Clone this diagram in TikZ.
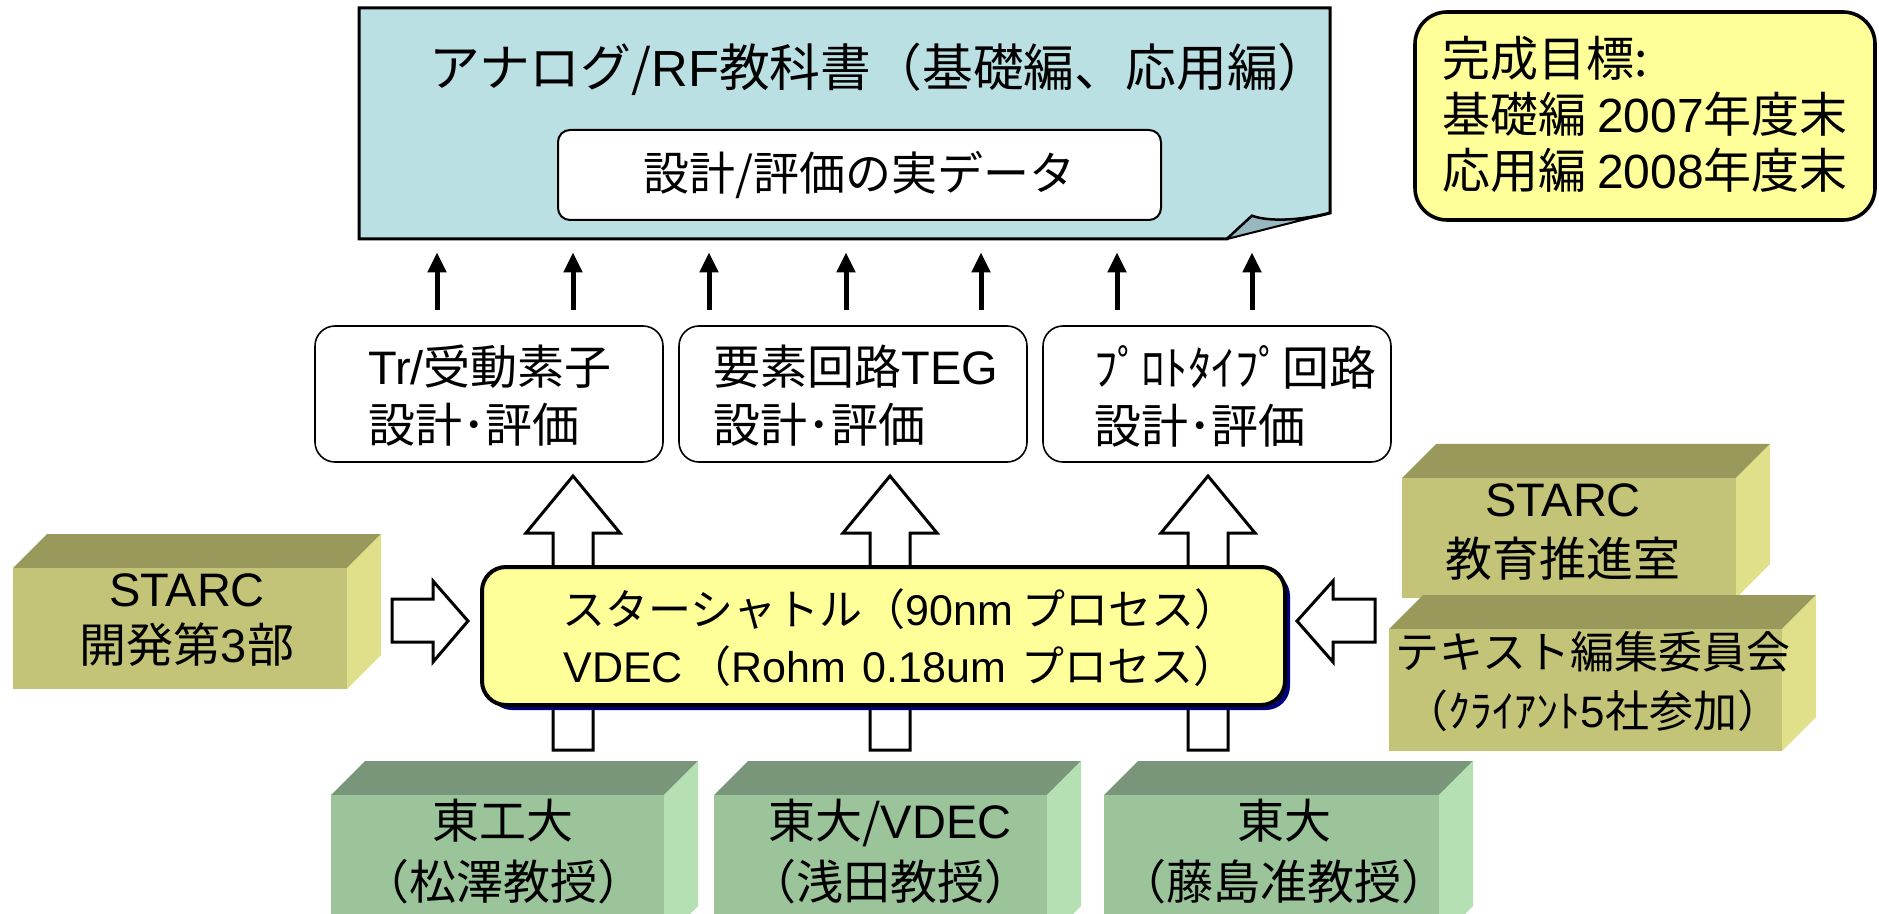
\documentclass[tikz,border=0pt]{standalone}
\usepackage{fontspec}
\setmainfont{Noto Sans CJK JP}
\newfontfamily\lat{Liberation Sans}
\newcommand{\la}[1]{{\lat #1}}
\usetikzlibrary{arrows.meta,fit}

\definecolor{docfill}{RGB}{187,224,228}
\definecolor{docflap}{RGB}{150,184,190}
\definecolor{paleyellow}{RGB}{255,255,153}
\definecolor{navyshadow}{RGB}{0,0,128}
\definecolor{olivefront}{RGB}{196,196,120}
\definecolor{olivetop}{RGB}{153,153,92}
\definecolor{oliveside}{RGB}{224,224,138}
\definecolor{greenfront}{RGB}{155,196,155}
\definecolor{greentop}{RGB}{122,150,122}
\definecolor{greenside}{RGB}{180,224,180}

\tikzset{
  txt/.style={inner sep=0pt, align=center, font=\fontsize{23.5}{29}\selectfont},
  rbox/.style={draw, line width=0.8pt, rounded corners=10pt, fill=white, inner sep=0pt},
  outarrow/.style={draw, fill=white, line width=1.5pt, line join=miter},
  smallarr/.style={line width=2.5pt, -{Triangle[width=9pt,length=10pt]}},
}

\newcommand{\cuboid}[6]{%
  \fill[#5top] (#1,#2) -- ({#1+34},{#2-34}) -- ({#3+34},{#2-34}) -- (#3,#2) -- cycle;
  \fill[#5side] (#3,#2) -- ({#3+34},{#2-34}) -- ({#3+34},{#4-34}) -- (#3,#4) -- cycle;
  \node[fill=#5front, inner sep=0pt, fit={(#1,#2) (#3,#4)}] (#6) {};
}

\begin{document}
\begin{tikzpicture}[x=0.5pt,y=-0.5pt]
\clip (0,0) rectangle (1879,914);
\fill[white] (0,0) rectangle (1879,914);

% document shape
\draw[fill=docfill, line width=1.5pt, line join=miter] (359,8) -- (1330,8) -- (1330,213)
  .. controls (1300,221) and (1268,222) .. (1252,216) -- (1227,239) -- (359,239) -- cycle;
\draw[fill=docflap, line width=1pt, line join=round] (1227,239) -- (1252,216)
  .. controls (1268,222) and (1300,221) .. (1330,213) -- cycle;
\node[fit={(359,8) (1330,239)}, inner sep=0pt] (doc) {};
\node[txt, font=\fontsize{25.4}{29}\selectfont] (title) at (879,69) {アナログ/\la{RF}教科書（基礎編、応用編）};
\node[draw, line width=1pt, rounded corners=6pt, fill=white, fit={(558,130) (1161,220)}, inner sep=0pt] (data) {};
\node[txt, font=\fontsize{23}{29}\selectfont] at (data.center) {設計/評価の実データ};

% goal box
\node[draw, line width=1.8pt, rounded corners=16pt, fill=paleyellow, fit={(1415,12) (1875,220)}, inner sep=0pt] (goal) {};
\node[txt, align=left, anchor=west, font=\fontsize{24}{28}\selectfont] at (1442,114)
  {完成目標:\\基礎編 \la{2007}年度末\\応用編 \la{2008}年度末};

% middle boxes
\node[rbox, fit={(315,326) (663,462)}] (tr) {};
\node[rbox, fit={(679,326) (1027,462)}] (teg) {};
\node[rbox, fit={(1043,326) (1391,462)}] (proto) {};
\node[txt, align=left] at (490,396) {\la{Tr/}受動素子\\設計･評価};
\node[txt, align=left] at (856,396) {要素回路\la{TEG}\\設計･評価};
\node[txt, align=left] at (1235,396) {ﾌﾟﾛﾄﾀｲﾌﾟ回路\\設計･評価};

% small arrows
\foreach \x/\b in {437/tr,573/tr,709/teg,846/teg,981/teg,1117/proto,1252/proto}{
  \coordinate (c\x) at (\x,0);
  \draw[smallarr, shorten <=7.5pt, shorten >=6.5pt] (\b.north -| c\x) -- (doc.south -| c\x);
}

% big up arrows
\foreach \cx in {573,890,1208}{
  \draw[outarrow] (\cx,476) -- ({\cx+47},533) -- ({\cx+20},533) -- ({\cx+20},750)
    -- ({\cx-20},750) -- ({\cx-20},533) -- ({\cx-47},533) -- cycle;
}

% shuttle box
\fill[navyshadow, rounded corners=12pt] (488,572) rectangle (1290,710);
\node[draw, line width=2pt, rounded corners=12pt, fill=paleyellow, fit={(482,567) (1285,705)}, inner sep=0pt] (shuttle) {};
\node[txt, font=\fontsize{21.5}{28.5}\selectfont] at (900,638)
  {スターシャトル（\la{90nm} プロセス）\\\la{VDEC}\hspace{3pt}（\la{Rohm\hspace{2pt} 0.18um}\hspace{3pt} プロセス）};

% side arrows
\draw[outarrow] (392,599) -- (433,599) -- (433,581) -- (468,621) -- (433,662) -- (433,642) -- (392,642) -- cycle;
\draw[outarrow] (1375,599) -- (1333,599) -- (1333,581) -- (1297,621) -- (1333,662) -- (1333,642) -- (1375,642) -- cycle;

% olive boxes
\cuboid{13}{568}{347}{689}{olive}{starcL}
\node[txt, font=\fontsize{23.5}{28}\selectfont] at (187,620) {\la{STARC}\\開発第\la{3}部};
\cuboid{1402}{478}{1736}{598}{olive}{starcR}
\node[txt, font=\fontsize{23.5}{30}\selectfont] at (1563,532) {\la{STARC}\\教育推進室};
\cuboid{1389}{629}{1782}{751}{olive}{edit}
\node[txt, font=\fontsize{22}{29.5}\selectfont] at (1593,682) {テキスト編集委員会\\（ｸﾗｲｱﾝﾄ\la{5}社参加）};

% green boxes
\cuboid{331}{795}{664}{940}{green}{tit}
\cuboid{714}{795}{1047}{940}{green}{ut}
\cuboid{1104}{795}{1439}{940}{green}{utf}
\node[txt, font=\fontsize{23.5}{30.5}\selectfont] at (503,852) {東工大\\（松澤教授）};
\node[txt, font=\fontsize{23.5}{30.5}\selectfont] at (890,852) {東大/\la{VDEC}\\（浅田教授）};
\node[txt, font=\fontsize{23.5}{30.5}\selectfont] at (1284,852) {東大\\（藤島准教授）};
\end{tikzpicture}
\end{document}
